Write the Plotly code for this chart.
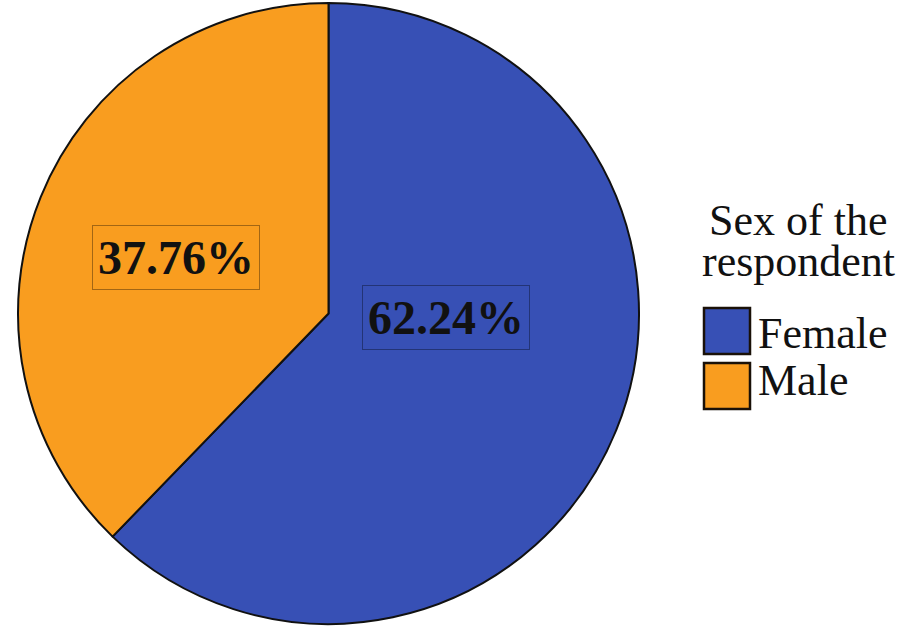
import plotly.graph_objects as go

categories = ["Female", "Male"]
percentages = [62.24, 37.76]
colors = ["#3750B5", "#F99D1F"]
legend_title_lines = ["Sex of the", "respondent"]

W, H = 902, 627
SERIF = "Liberation Serif, Times New Roman, serif"

fig = go.Figure()
fig.add_trace(go.Pie(
    labels=categories,
    values=percentages,
    sort=False,
    direction="clockwise",
    rotation=0,
    marker=dict(colors=colors, line=dict(color="#111111", width=2)),
    textinfo="none",
    hoverinfo="label+percent",
    showlegend=False,
    domain=dict(x=[18 / W, 639 / W], y=[1 - 624 / H, 1 - 3 / H]),
))

def px(x):
    return x / W

def py(y):
    return 1 - y / H

annotations = []
# slice labels (boxed, bold)
label_pos = {"Female": (446, 317), "Male": (176, 257)}
for cat, val in zip(categories, percentages):
    x, y = label_pos[cat]
    annotations.append(dict(
        x=px(x), y=py(y), xref="paper", yref="paper",
        text=f"<b>{val:.2f}%</b>", showarrow=False,
        font=dict(family=SERIF, size=48, color="#111111"),
        bordercolor="rgba(0,0,0,0.35)", borderwidth=1, borderpad=5,
        xanchor="center", yanchor="middle",
    ))

# legend title
for i, line in enumerate(legend_title_lines):
    annotations.append(dict(
        x=px(798), y=py(236 + 41 * i), xref="paper", yref="paper",
        text=line, showarrow=False,
        font=dict(family=SERIF, size=44, color="#111111"),
        xanchor="center", yanchor="bottom", yshift=-11,
    ))

shapes = []
text_centers = [333, 381]
for i, (cat, col) in enumerate(zip(categories, colors)):
    top = 308 + 55 * i
    shapes.append(dict(
        type="rect", xref="paper", yref="paper",
        x0=px(704), x1=px(750), y0=py(top + 46), y1=py(top),
        fillcolor=col, line=dict(color="#1a1108", width=2.5),
    ))
    annotations.append(dict(
        x=px(756), y=py(text_centers[i]), xref="paper", yref="paper",
        text=cat, showarrow=False,
        font=dict(family=SERIF, size=44, color="#111111"),
        xanchor="left", yanchor="middle",
    ))

fig.update_layout(
    width=W, height=H,
    margin=dict(l=0, r=0, t=0, b=0),
    paper_bgcolor="white", plot_bgcolor="white",
    annotations=annotations, shapes=shapes,
    showlegend=False,
)

fig.write_html(
    "out.html",
    config={"displayModeBar": False},
    post_script="document.body.style.margin='0';document.body.style.padding='0';",
)
